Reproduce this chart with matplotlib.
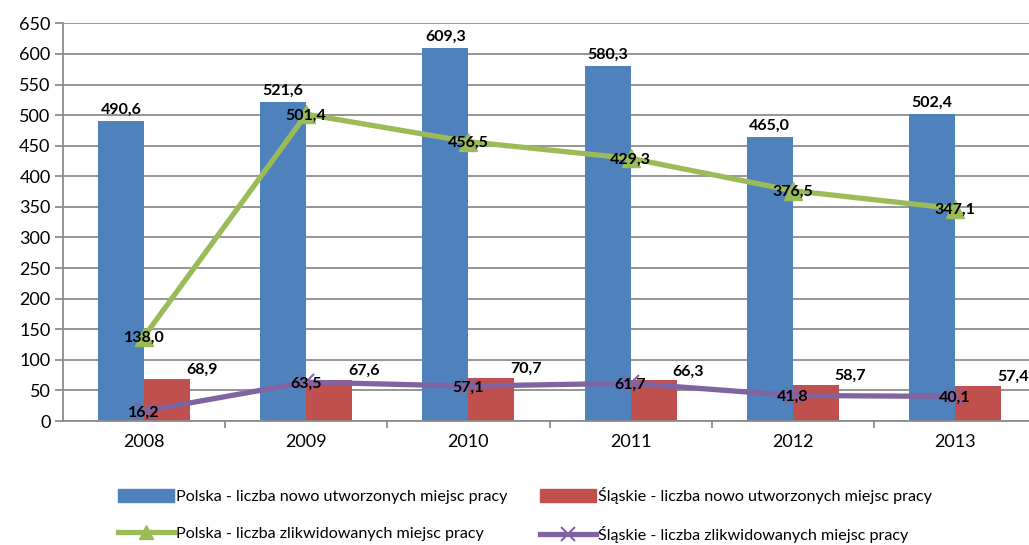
import matplotlib
matplotlib.use("Agg")
import matplotlib.pyplot as plt
from matplotlib.lines import Line2D
from matplotlib.patches import Patch
import numpy as np

plt.rcParams['font.family'] = ['Lato', 'DejaVu Sans']

years = ["2008", "2009", "2010", "2011", "2012", "2013"]
pl_new = [490.6, 521.6, 609.3, 580.3, 465.0, 502.4]
sl_new = [68.9, 67.6, 70.7, 66.3, 58.7, 57.4]
pl_del = [138.0, 501.4, 456.5, 429.3, 376.5, 347.1]
sl_del = [16.2, 63.5, 57.1, 61.7, 41.8, 40.1]

labels = ["Polska - liczba nowo utworzonych miejsc pracy",
          "Śląskie - liczba nowo utworzonych miejsc pracy",
          "Polska - liczba zlikwidowanych miejsc pracy",
          "Śląskie - liczba zlikwidowanych miejsc pracy"]

c_blue = "#4F81BD"
c_red = "#C0504D"
c_green = "#9BBB59"
c_purple = "#8064A2"
grid_c = "#8C8C8C"

def fmt(v):
    return f"{v:.1f}".replace(".", ",")

fig = plt.figure(figsize=(10.29, 5.45), dpi=100)
ax = fig.add_axes([63/1029, 0.2275, 973/1029, 0.7297])

x = np.arange(len(years))
w = 0.284
ax.bar(x - w/2, pl_new, w, color=c_blue, zorder=2)
ax.bar(x + w/2, sl_new, w, color=c_red, zorder=2)
ax.plot(x, pl_del, color=c_green, lw=3.8, marker='^', ms=13, zorder=3,
        solid_capstyle='round')
ax.plot(x, sl_del, color=c_purple, lw=3.8, marker='x', ms=11, mew=1.5, zorder=3,
        solid_capstyle='round')

fs_lab = 11.5
for i in range(len(years)):
    ax.annotate(fmt(pl_new[i]), (x[i] - w/2, pl_new[i]), xytext=(0, 3),
                textcoords='offset points', ha='center', va='bottom',
                fontsize=fs_lab, fontweight='bold', zorder=5)
    ax.annotate(fmt(sl_new[i]), (x[i] + w/2, sl_new[i]), xytext=(25, 1.5),
                textcoords='offset points', ha='center', va='bottom',
                fontsize=fs_lab, fontweight='bold', zorder=5)
    ax.annotate(fmt(pl_del[i]), (x[i], pl_del[i]), xytext=(0, -1),
                textcoords='offset points', ha='center', va='center',
                fontsize=fs_lab, fontweight='bold', zorder=5)
    ax.annotate(fmt(sl_del[i]), (x[i], sl_del[i]), xytext=(0, -1),
                textcoords='offset points', ha='center', va='center',
                fontsize=fs_lab, fontweight='bold', zorder=5)

ax.set_xlim(-0.5, len(years) - 0.5)
ax.set_ylim(0, 650)
ax.set_yticks(np.arange(0, 651, 50))
ax.yaxis.grid(True, color=grid_c, lw=1.3, zorder=0)
ax.set_axisbelow(True)
for s in ['top', 'right']:
    ax.spines[s].set_visible(False)
for s in ['left', 'bottom']:
    ax.spines[s].set_color(grid_c)
    ax.spines[s].set_linewidth(1.3)
ax.set_xticks(np.arange(0.5, len(years) - 0.5, 1))
ax.set_xticklabels([])
ax.set_xticks(x, minor=True)
ax.set_xticklabels(years, minor=True)
ax.tick_params(axis='x', which='major', length=5, color=grid_c, width=1.3)
ax.tick_params(axis='x', which='minor', length=0, pad=9, labelsize=13)
ax.tick_params(axis='y', length=6, color=grid_c, width=1.3, labelsize=13, pad=3)

handles = [Patch(color=c_blue),
           Line2D([], [], color=c_green, lw=3.8, marker='^', ms=10),
           Patch(color=c_red),
           Line2D([], [], color=c_purple, lw=3.8, marker='x', ms=10, mew=1.5)]
hl = [labels[0], labels[2], labels[1], labels[3]]
fig.legend(handles, hl, ncol=2, loc='upper left', bbox_to_anchor=(118/1029, 1 - 487/545),
           frameon=False, fontsize=11.6, handlelength=3.5, handleheight=0.9,
           handletextpad=0.1, columnspacing=2.0, labelspacing=1.35,
           borderaxespad=0, borderpad=0)

fig.savefig("out.png", dpi=100)
